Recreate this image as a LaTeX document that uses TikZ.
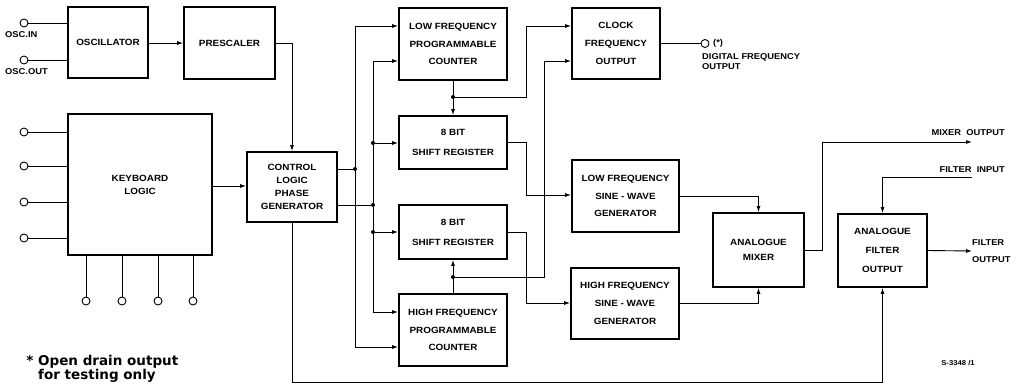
\documentclass[tikz,border=0pt]{standalone}
\usepackage{fontspec}
\setmainfont{Liberation Sans}
\newfontfamily\blkfamily{Liberation Sans}[FakeStretch=1.1]
\newfontfamily\notefamily{DejaVu Sans}
\usetikzlibrary{arrows.meta}

\begin{document}
\begin{tikzpicture}[x=1pt, y=-1pt, >={Latex[length=6pt,width=4pt]},
  blk/.style={draw, line width=1.8pt, align=center, inner sep=0pt, font=\blkfamily\bfseries\fontsize{9}{#1}\selectfont},
  blk/.default=13,
  lbl/.style={inner sep=0pt, align=left, font=\blkfamily\bfseries\fontsize{8.5}{#1}\selectfont},
  lbl/.default=10,
  term/.style={circle, draw, line width=0.9pt, inner sep=0pt, minimum size=8pt},
  dot/.style={circle, fill, inner sep=0pt, minimum size=4pt},
  wire/.style={line width=0.9pt}]

\useasboundingbox (0,0) rectangle (1022,384);

\node[blk, minimum width=80pt, minimum height=71pt] (osc) at (108,42.5) {OSCILLATOR};
\node[blk, minimum width=91pt, minimum height=72pt] (pre) at (229.5,43) {PRESCALER};
\node[blk, minimum width=144pt, minimum height=141pt] (kbd) at (140,184.5) {KEYBOARD\\LOGIC};
\node[blk, minimum width=90pt, minimum height=70pt] (ctl) at (292,187) {CONTROL\\LOGIC\\PHASE\\GENERATOR};

\node[blk=17.5, minimum width=108pt, minimum height=72pt] (lfc) at (453,44) {LOW FREQUENCY\\PROGRAMMABLE\\COUNTER};
\node[blk=20, minimum width=108pt, minimum height=53pt] (sr1) at (453,142.5) {8 BIT\\SHIFT REGISTER};
\node[blk=20, minimum width=108pt, minimum height=54pt] (sr2) at (453,232) {8 BIT\\SHIFT REGISTER};
\node[blk=17.5, minimum width=108pt, minimum height=72pt] (hfc) at (453,330) {HIGH FREQUENCY\\PROGRAMMABLE\\COUNTER};

\node[blk=18, minimum width=88pt, minimum height=71pt] (clk) at (616,43.5) {CLOCK\\FREQUENCY\\OUTPUT};
\node[blk=17.5, minimum width=107pt, minimum height=72pt] (lfs) at (625.5,196) {LOW FREQUENCY\\SINE - WAVE\\GENERATOR};
\node[blk=18, minimum width=108pt, minimum height=71pt] (hfs) at (625,303.5) {HIGH FREQUENCY\\SINE - WAVE\\GENERATOR};
\node[blk=15, minimum width=91pt, minimum height=74pt] (mix) at (758.5,250) {ANALOGUE\\MIXER};
\node[blk=19, minimum width=89pt, minimum height=73pt] (flt) at (882.5,250.5) {ANALOGUE\\FILTER\\OUTPUT};

\node[term] (oscin) at (24,23) {};
\node[term] (oscout) at (24,60) {};
\node[lbl, anchor=north west] (oscinl) at (5,31) {OSC.IN};
\node[lbl, anchor=north west] (oscoutl) at (5,68) {OSC.OUT};
\draw[wire] (oscin) -- (oscin -| osc.west);
\draw[wire] (oscout) -- (oscout -| osc.west);

\foreach \y [count=\i] in {132,166,202,238} {
  \node[term] (kl\i) at (24,\y) {};
  \draw[wire] (kl\i) -- (kl\i -| kbd.west);
}
\foreach \x [count=\i] in {86,122,158,193} {
  \node[term] (kb\i) at (\x,301) {};
  \draw[wire] (kb\i) -- (kb\i |- kbd.south);
}

\draw[wire, ->] (osc.east |- pre.west) -- (pre.west);
\draw[wire, ->] (pre.east) -| (ctl.north);
\draw[wire, ->] (kbd.east |- 0,186) -- (ctl.west |- 0,186);

\node[dot] (da) at (355,169) {};
\node[dot] (db) at (373,205) {};
\node[dot] (db1) at (373,143) {};
\node[dot] (db2) at (373,232) {};
\coordinate (a1) at (355,26);
\coordinate (a2) at (355,347);
\coordinate (b1) at (373,61);
\coordinate (b2) at (373,312);
\draw[wire] (ctl.east |- da) -- (da);
\draw[wire] (ctl.east |- db) -- (db);
\draw[wire, ->] (da) -- (a1) -- (a1 -| lfc.west);
\draw[wire, ->] (da) -- (a2) -- (a2 -| hfc.west);
\draw[wire, ->] (db) -- (b1) -- (b1 -| lfc.west);
\draw[wire, ->] (db) -- (b2) -- (b2 -| hfc.west);
\draw[wire, ->] (db1) -- (db1 -| sr1.west);
\draw[wire, ->] (db2) -- (db2 -| sr2.west);

\node[dot] (dl) at (453,97) {};
\node[dot] (dh) at (453,277) {};
\coordinate (k1) at (526,26);
\coordinate (k2) at (544,61);
\draw[wire, ->] (lfc.south) -- (sr1.north);
\draw[wire, ->] (hfc.north) -- (sr2.south);
\draw[wire, ->] (dl) -| (k1) -- (k1 -| clk.west);
\draw[wire, ->] (dh) -| (k2) -- (k2 -| clk.west);

\coordinate (s1) at (526,195);
\coordinate (s2) at (526,303);
\draw[wire, ->] (sr1.east) -| (s1) -- (s1 -| lfs.west);
\draw[wire, ->] (sr2.east) -| (s2) -- (s2 -| hfs.west);
\draw[wire, ->] (lfs.east) -| (mix.north);
\draw[wire, ->] (hfs.east) -| (mix.south);

\node[term] (dfo) at (705,43.5) {};
\node[lbl, anchor=west] (dfos) at (713,43.5) {(*)};
\node[lbl, anchor=north west] (dfol) at (702,53) {DIGITAL FREQUENCY\\OUTPUT};
\draw[wire] (clk.east) -- (dfo);

\coordinate (m1) at (822,142);
\coordinate (mo) at (972,142);
\node[lbl, anchor=south east] (mol) at (1005,136) {MIXER\ \ OUTPUT};
\draw[wire, ->] (mix.east) -| (m1) -- (mo);

\coordinate (fi) at (972,177);
\node[lbl, anchor=south east] (fil) at (1005,173) {FILTER\ \ INPUT};
\draw[wire, ->] (fi) -| (flt.north);

\node[lbl=17, anchor=west] (fol) at (972,251) {FILTER\\OUTPUT};
\draw[wire, ->] (flt.east) -- (fol.west);

\coordinate (fb) at (882.5,382);
\draw[wire, ->] (ctl.south) |- (fb) -- (flt.south);

\node[inner sep=0pt, align=left, anchor=north west, font=\notefamily\bfseries\fontsize{13.5}{11.5}\selectfont] (note) at (38,355) {\llap{*\ }Open drain output\\for testing only};
\node[inner sep=0pt, font=\blkfamily\bfseries\fontsize{7}{8}\selectfont] (ref) at (958,363) {S-3348 /1};

\end{tikzpicture}
\end{document}
